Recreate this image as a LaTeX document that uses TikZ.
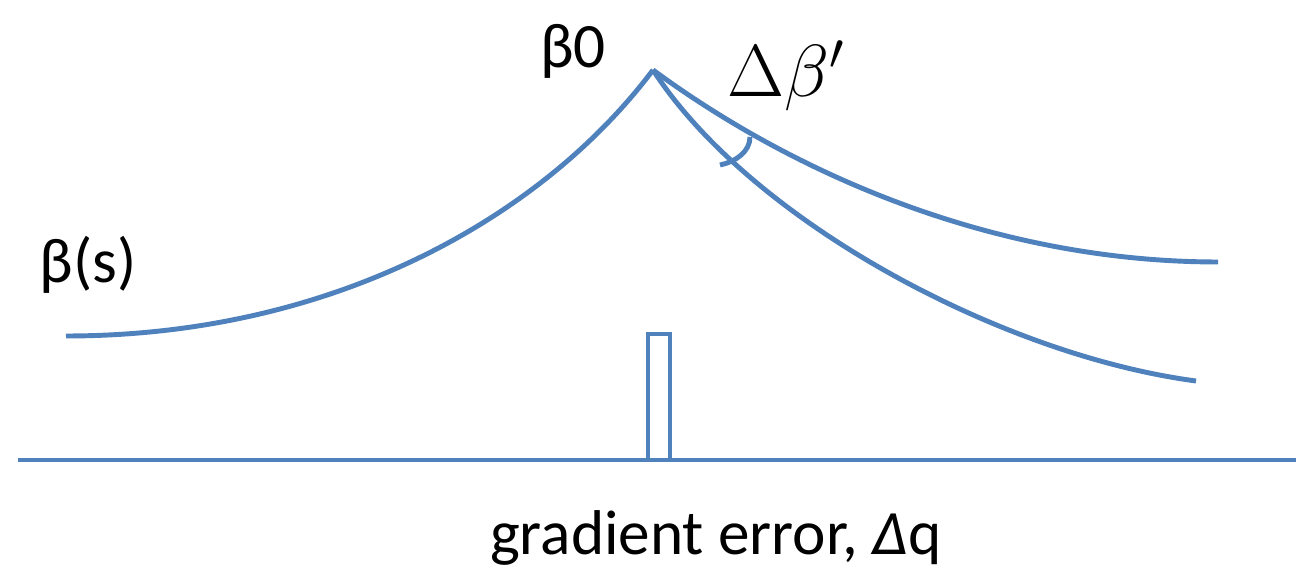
\RequirePackage{fix-cm}
\documentclass[tikz,border=0pt]{standalone}
\usepackage{fontspec}
\setsansfont{Carlito}
\usepackage{tikz}
\usetikzlibrary{calc}
\definecolor{curveblue}{RGB}{79,129,189}

\begin{document}
\begin{tikzpicture}[
    x=0.02cm, y=0.02cm,
    curve/.style={draw=curveblue, line width=2.8pt},
    lbl/.style={font=\sffamily\fontsize{36}{42}\selectfont, inner sep=0pt},
]
    \useasboundingbox (0,0) rectangle (1296,570);
    \coordinate (peak) at (653,500);
    \coordinate (lend) at (66,234);
    \coordinate (uend) at (1218,308);
    \coordinate (dend) at (1196,189);
    \coordinate (axl) at (18,110);
    \coordinate (axr) at (1296,110);
    \coordinate (angu) at (750,433);
    \coordinate (angd) at (720,405);
    \node[lbl] (b0) at (573,519) {β0};
    \node[lbl] (bs) at (88,305) {β(s)};
    \node[font=\fontsize{42}{48}\selectfont, inner sep=0pt] (dbeta) at (786,494) {$\Delta\beta'$};
    \node[lbl] (xlabel) at (716,32) {gradient error, \textit{Δ}q};
    % axis and the error bar
    \draw[curve] (axl) -- (axr);
    \draw[curve] (648,110) rectangle (670,236);
    % beta curves
    \draw[curve] (lend) .. controls (330,234) and (540,350) .. (peak);
    \draw[curve] (peak) .. controls (800,392) and (1000,308) .. (uend);
    \draw[curve] (peak) .. controls (750,350) and (1000,215) .. (dend);
    % angle between the two branches
    \draw[curve] (angu) .. controls (750,418) and (735,408) .. (angd);
\end{tikzpicture}
\end{document}
